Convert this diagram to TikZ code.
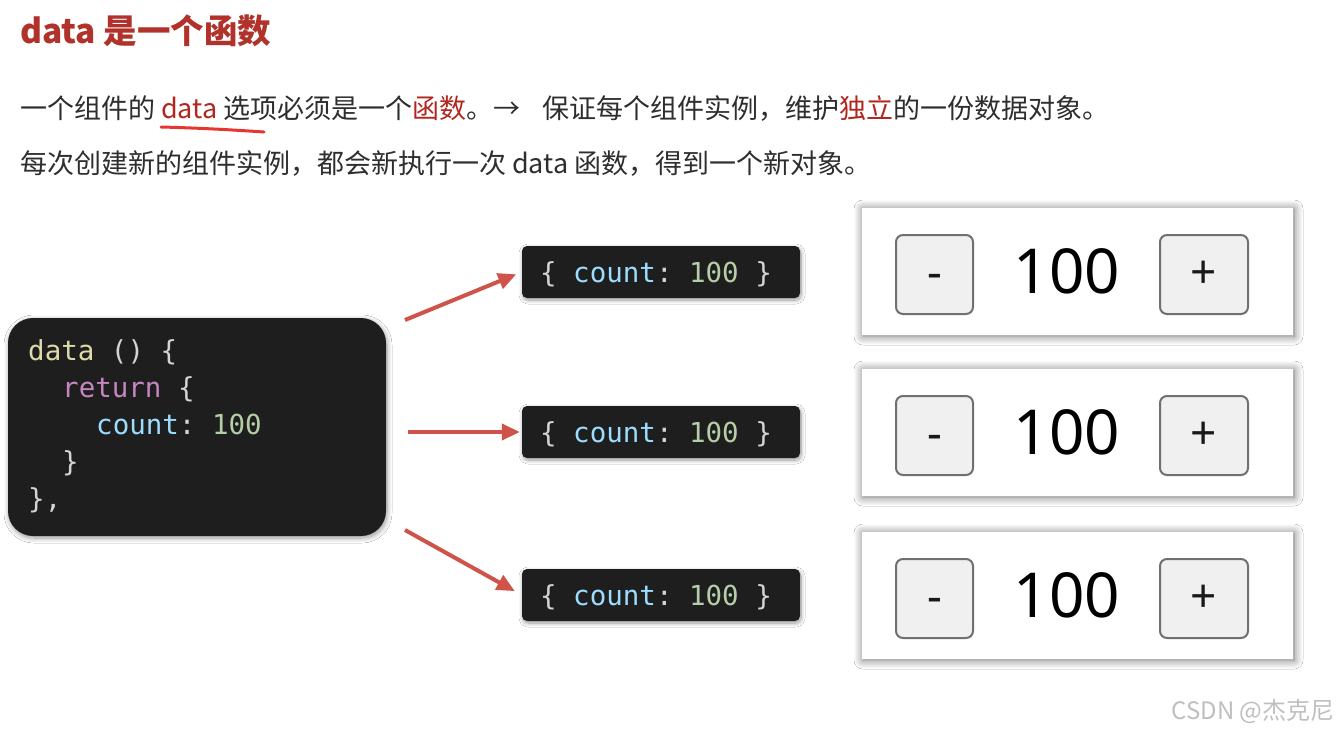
\documentclass[tikz,border=0pt]{standalone}
\usepackage{fontspec}
\setmainfont{Noto Sans CJK SC}
\newfontfamily\codefont{DejaVu Sans Mono}
\newfontfamily\uifont{Noto Sans}
\usetikzlibrary{shadows.blur, arrows.meta}
\definecolor{titlered}{HTML}{B0322A}
\definecolor{hlred}{HTML}{B3261E}
\definecolor{bodytext}{HTML}{2E2E2E}
\definecolor{codebg}{HTML}{1E1E1E}
\definecolor{arrowred}{HTML}{D0534A}
\definecolor{kwfn}{HTML}{DCDCAA}
\definecolor{kwret}{HTML}{C586C0}
\definecolor{kwprop}{HTML}{9CDCFE}
\definecolor{kwnum}{HTML}{B5CEA8}
\definecolor{kwpunc}{HTML}{D4D4D4}
\definecolor{btnfill}{HTML}{F0F0F0}
\definecolor{btnline}{HTML}{707070}
\definecolor{underl}{HTML}{E0221A}
\newcommand{\csp}{\hphantom{0}}
\newcommand{\objtext}{\textcolor{kwpunc}{\{}\csp\textcolor{kwprop}{count}\textcolor{kwpunc}{:}\csp\textcolor{kwnum}{100}\csp\textcolor{kwpunc}{\}}}
\begin{document}
\begin{tikzpicture}[x=1pt,y=-1pt,
  txt/.style={inner sep=0pt, anchor=base west},
  bodyfont/.style={font=\fontsize{27}{30}\selectfont, text=bodytext},
  codeline/.style={inner sep=0pt, anchor=base west, font=\codefont\fontsize{27.5}{37}\selectfont},
  codebox/.style={fill=codebg, rounded corners=25pt, minimum width=378pt, minimum height=218pt,
    blur shadow={shadow xshift=1pt, shadow yshift=-2pt, shadow blur radius=5pt, shadow blur steps=10, shadow opacity=40}},
  objbox/.style={fill=codebg, rounded corners=5pt, minimum width=278pt, minimum height=52pt, inner sep=0pt,
    blur shadow={shadow xshift=1pt, shadow yshift=-2pt, shadow blur radius=4pt, shadow blur steps=10, shadow opacity=40}},
  objtxt/.style={inner sep=0pt, anchor=base, font=\codefont\fontsize{27.5}{30}\selectfont},
  redarrow/.style={draw=arrowred, line width=4pt, -{Triangle[length=18pt,width=16pt]}},
  panel/.style={fill=white, minimum width=431pt, minimum height=127pt, inner sep=0pt,
    blur shadow={shadow xshift=1pt, shadow yshift=-1pt, shadow blur radius=9pt, shadow blur steps=14, shadow opacity=55}},
  btn/.style={draw=btnline, line width=2pt, fill=btnfill, rounded corners=7pt, minimum height=79pt,
    inner sep=0pt},
  btntxt/.style={inner sep=0pt, font=\uifont\fontsize{46}{50}\selectfont, text=black!90},
  bignum/.style={inner sep=0pt, font=\uifont\fontsize{62}{66}\selectfont, text=black}
]
\useasboundingbox[fill=white] (0,0) rectangle (1342,732);

% title
\node[txt, font=\bfseries\fontsize{33.5}{36}\selectfont, text=titlered] (title) at (20,43) {data 是一个函数};

% body lines
\node[txt, bodyfont] (line1) at (20,118) {一个组件的 {\color{hlred}data} 选项必须是一个{\color{hlred}函数}。→\hspace{22pt}保证每个组件实例，维护{\color{hlred}独立}的一份数据对象。};
\node[txt, bodyfont] (line2) at (20,173) {每次创建新的组件实例，都会新执行一次 data 函数，得到一个新对象。};
\draw[underl, line width=3pt, line cap=round, opacity=0.9] (161,127) .. controls (200,128) and (235,130) .. (264,132);

% code box
\node[codebox] (code) at (197,427) {};
\node[codeline] (c1) at (28,360) {\textcolor{kwfn}{data}\csp\textcolor{kwpunc}{()}\csp\textcolor{kwpunc}{\{}};
\node[codeline] (c2) at (62,397) {\textcolor{kwret}{return}\csp\textcolor{kwpunc}{\{}};
\node[codeline] (c3) at (96,434) {\textcolor{kwprop}{count}\textcolor{kwpunc}{:}\csp\textcolor{kwnum}{100}};
\node[codeline] (c4) at (62,471) {\textcolor{kwpunc}{\}}};
\node[codeline] (c5) at (28,508) {\textcolor{kwpunc}{\},}};

% object boxes
\foreach \i/\yy in {1/272,2/432,3/595}{
  \node[objbox] (obj\i) at (661,\yy) {};
  \node[objtxt] (objt\i) at (656,\yy+10) {\objtext};
}

% arrows
\coordinate (a1s) at (405,320);
\coordinate (a2s) at (408,432);
\coordinate (a3s) at (405,530);
\draw[redarrow, shorten >=6pt] (a1s) -- (obj1.west);
\draw[redarrow, shorten >=2pt] (a2s) -- (obj2.west);
\draw[redarrow, shorten >=8pt] (a3s) -- (obj3.west);

% counter panels
\foreach \i/\yy in {1/0,2/161,3/324}{
  \node[panel] (panel\i) at (1077.5,271.5+\yy) {};
  \node[btn, minimum width=77pt] (minus\i) at (934.5,274.5+\yy) {};
  \node[btntxt, yshift=-7pt] at (minus\i) {-};
  \node[btn, minimum width=88pt] (plus\i) at (1204,274.5+\yy) {};
  \node[btntxt] at (plus\i) {+};
  \node[bignum] (num\i) at (1067,271+\yy) {100};
}

% watermark
\node[inner sep=0pt, font=\fontsize{24}{26}\selectfont, text=black!25] (wm) at (1253,711) {CSDN @杰克尼};
\end{tikzpicture}
\end{document}
